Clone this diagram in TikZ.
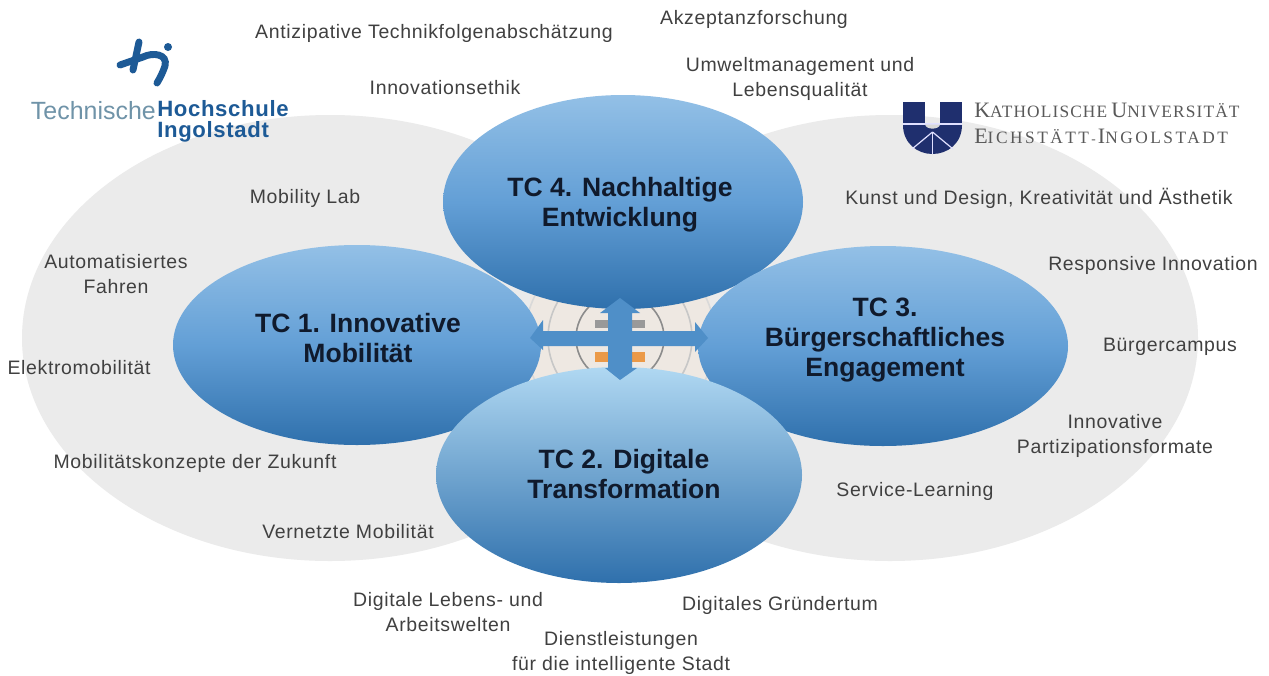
\documentclass[tikz,border=0pt]{standalone}
\usepackage{fontspec}
\setmainfont{Liberation Sans}
\newfontfamily\lblfont[LetterSpace=3.4]{Liberation Sans}
\newfontfamily\kufont[LetterSpace=6.5]{Liberation Serif}
\newfontfamily\kufontb[LetterSpace=14.5]{Liberation Serif}
\newfontfamily\thifont[LetterSpace=3]{Liberation Sans}
\usetikzlibrary{shapes.geometric}
\definecolor{lab}{HTML}{404040}
\definecolor{tclight}{HTML}{93C0E6}
\definecolor{tcmid}{HTML}{639FD6}
\definecolor{tcdark}{HTML}{2F70AC}
\definecolor{tctop}{HTML}{B0D8F2}
\definecolor{arrowblue}{HTML}{4F8FC8}
\definecolor{navy}{HTML}{1F2F6E}
\definecolor{thiblue}{HTML}{1D5A96}
\definecolor{thigrey}{HTML}{6F93A8}
\definecolor{centrebg}{HTML}{EEE8E2}
\definecolor{tcink}{HTML}{101A2C}
\newcommand{\ku}[2]{{\fontsize{16.5}{16}\selectfont #1}{\fontsize{13}{14}\selectfont #2}}
\tikzset{
  lbl/.style={font=\lblfont\fontsize{14.6}{18.4}\selectfont, text=lab, align=center, inner sep=0pt},
  tcell/.style={ellipse, minimum width=#1, inner sep=0pt, top color=tclight, bottom color=tcdark, middle color=tcmid, draw=none},
  tctext/.style={font=\bfseries\fontsize{19.9}{22.5}\selectfont, text=tcink, align=center, inner sep=0pt},
  greyell/.style={ellipse, fill=black!8, draw=none, inner sep=0pt},
}
\begin{document}
\begin{tikzpicture}[x=0.75pt,y=-0.75pt]
\useasboundingbox (0,0) rectangle (1269,675);
\fill[white] (0,0) rectangle (1269,675);
% grey ellipses
\node[greyell, minimum width=616*0.75pt, minimum height=446*0.75pt] (gl) at (330,338) {};
\node[greyell, minimum width=616*0.75pt, minimum height=446*0.75pt] (gr) at (890,338) {};
% centre
\fill[centrebg] (530,295) rectangle (710,385);
\begin{scope}[line width=1.2pt]
\draw[black!45] (620,338) circle [radius=44];
\draw[black!22] (620,338) circle [radius=72];
\draw[black!15] (620,338) circle [radius=95];
\end{scope}
\fill[black!40] (595,320) rectangle (608,328);
\fill[black!40] (632,320) rectangle (645,328);
\fill[orange!60!brown!80] (595,352) rectangle (608,362);
\fill[orange!60!brown!80] (632,352) rectangle (645,362);
% ellipses
\node[tcell=360*0.75pt, minimum height=214*0.75pt] (tc4) at (623,202) {};
\node[tcell=368*0.75pt, minimum height=200*0.75pt] (tc1) at (357,345) {};
\node[tcell=370*0.75pt, minimum height=200*0.75pt] (tc3) at (883,346) {};
\node[tcell=366*0.75pt, minimum height=216*0.75pt, top color=tctop] (tc2) at (619,475) {};
% cross arrow
\fill[arrowblue] (608,331) -- (608,313) -- (600,313) -- (620,298) -- (640,313) -- (632,313) -- (632,331)
 -- (695,331) -- (695,322) -- (708,338) -- (695,352) -- (695,346) -- (632,346)
 -- (632,368) -- (637,368) -- (620,380) -- (605,368) -- (608,368) -- (608,346)
 -- (543,346) -- (543,350) -- (530,338) -- (543,320) -- (543,331) -- cycle;
% cell text
\node[tctext] (t4) at (620,205) {TC 4. Nachhaltige\\Entwicklung};
\node[tctext] (t1) at (358,338) {TC 1. Innovative\\Mobilität};
\node[tctext] (t3) at (885,340) {TC 3.\\Bürgerschaftliches\\Engagement};
\node[tctext] (t2) at (624,474) {TC 2. Digitale\\Transformation};
% labels
\node[lbl] (a1) at (434,33) {Antizipative Technikfolgenabschätzung};
\node[lbl] (a2) at (445,88) {Innovationsethik};
\node[lbl] (a3) at (754,19) {Akzeptanzforschung};
\node[lbl] (a4) at (800,79) {Umweltmanagement und\\Lebensqualität};
\node[lbl] (a5) at (305,198) {Mobility Lab};
\node[lbl] (a6) at (116,274) {Automatisiertes\\Fahren};
\node[lbl] (a7) at (79,368) {Elektromobilität};
\node[lbl] (a8) at (195,463) {Mobilitätskonzepte der Zukunft};
\node[lbl] (a9) at (348,532) {Vernetzte Mobilität};
\node[lbl] (a10) at (448,612) {Digitale Lebens- und\\Arbeitswelten};
\node[lbl] (a11) at (621,653) {Dienstleistungen\\für die intelligente Stadt};
\node[lbl] (a12) at (780,605) {Digitales Gründertum};
\node[lbl] (a13) at (915,491) {Service-Learning};
\node[lbl] (a14) at (1115,436) {Innovative\\Partizipationsformate};
\node[lbl] (a15) at (1170,347) {Bürgercampus};
\node[lbl] (a16) at (1153,265) {Responsive Innovation};
\node[lbl] (a17) at (1039,198) {Kunst und Design, Kreativität und Ästhetik};
% THI logo
\begin{scope}[thiblue, line cap=round, line width=5.2pt]
\draw (120,65) -- (143,57);
\draw (139,42) -- (133,70);
\draw (143,57) .. controls (153,52) and (168,54) .. (165,66) .. controls (163,72) and (160,78) .. (157,83);
\fill (168,47) circle (4);
\end{scope}
\node[inner sep=0pt, anchor=east, text=thigrey, font=\fontsize{18.7}{20}\selectfont] (thi1) at (156,111) {Technische};
\node[inner sep=0pt, anchor=west, align=left, text=thiblue, font=\bfseries\thifont\fontsize{16.6}{15.5}\selectfont] (thi2) at (157,121) {Hochschule\\Ingolstadt};
% KU logo
\fill[navy] (903,102) rectangle (925,123);
\fill[navy] (940,102) rectangle (962,123);
\fill[navy] (903,125) -- (962,125) .. controls (962,143) and (948,154) .. (932.5,154) .. controls (917,154) and (903,143) .. (903,125) -- cycle;
\begin{scope}[draw=blue!12!white, line width=0.9pt]
\draw (903,124) -- (962,124);
\draw (932.5,132) -- (932.5,154);
\draw (932.5,132) -- (912,149);
\draw (932.5,132) -- (953,149);
\end{scope}
\fill[black!15!white] (925,124.5) .. controls (926,130) and (939,130) .. (940,124.5) -- cycle;
\node[inner sep=0pt, anchor=west, text=black!65, font=\kufont] (ku1) at (974,110) {\ku{K}{ATHOLISCHE} \ku{U}{NIVERSITÄT}};
\node[inner sep=0pt, anchor=west, text=black!65, font=\kufontb] (ku2) at (974,136) {\ku{E}{ICHSTÄTT}\,-\,\ku{I}{NGOLSTADT}};
\end{tikzpicture}
\end{document}
